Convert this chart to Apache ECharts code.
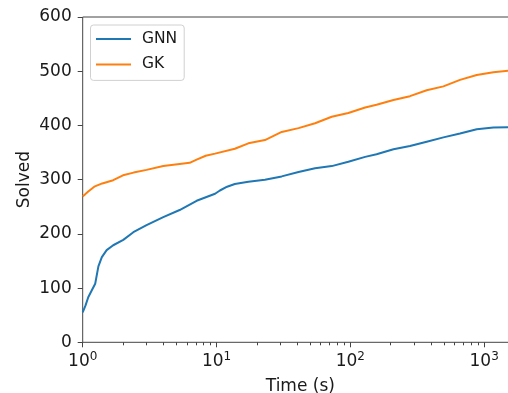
<!DOCTYPE html>
<html>
<head>
<meta charset="utf-8">
<script src="https://cdn.jsdelivr.net/npm/echarts@6/dist/echarts.min.js"></script>
<style>html,body{margin:0;padding:0;background:#fff}#c{width:508px;height:393px}</style>
</head>
<body>
<div id="c"></div>
<script>
const gnnTime = [1, 1.05, 1.10, 1.17, 1.24, 1.31, 1.39, 1.51, 1.69, 2.01, 2.39, 3.0, 4.0, 5.3, 7.1, 9.75, 10.6, 12, 13.7, 17.3, 23, 30.7, 41, 54.5, 72.6, 96.6, 129, 157, 210, 279, 372, 496, 660, 880, 1172, 1800];
const gnnSolved = [55, 68, 83, 96, 108, 140, 157, 170, 179, 189, 203, 216, 231, 244, 261, 274, 280, 287, 292, 296, 300, 306, 314, 321, 325, 333, 342, 347, 356, 362, 370, 378, 385, 393, 396, 397];
const gkTime = [1, 1.1, 1.22, 1.4, 1.69, 2.0, 2.4, 3.0, 4.0, 5.3, 6.3, 7.1, 8.3, 9.75, 13.7, 17.3, 23, 30.7, 41, 54.5, 72.6, 96.6, 129, 157, 210, 279, 372, 496, 660, 880, 1172, 1515, 1800];
const gkSolved = [269, 278, 287, 293, 299, 308, 313, 318, 325, 329, 331, 337, 344, 348, 357, 367, 373, 388, 395, 404, 416, 423, 433, 438, 447, 454, 465, 472, 484, 493, 498, 501, 503];
const yTicks = [0, 100, 200, 300, 400, 500, 600];
const xMajor = [1, 10, 100, 1000];
const xMinor = [2,3,4,5,6,7,8,9,20,30,40,50,60,70,80,90,200,300,400,500,600,700,800,900];
const xMin = 1, xMax = 1790;

const font = 'DejaVu Sans';
const chart = echarts.init(document.getElementById('c'), null, {renderer: 'canvas'});
const zip = (a, b) => a.map((t, i) => [t, b[i]]);

chart.setOption({
  animation: false,
  backgroundColor: '#fff',
  textStyle: {fontFamily: font},
  grid: {left: 82.7, top: 17, right: -10, bottom: 50.7, containLabel: false, outerBoundsMode: 'none', show: true, borderColor: '#444', borderWidth: 1, backgroundColor: 'transparent'},
  legend: {
    orient: 'vertical', left: 90.5, top: 25,
    itemWidth: 35, itemHeight: 14, itemGap: 9.4,
    padding: [6, 7, 8, 4.5],
    borderColor: '#d0d0d0', borderWidth: 1, borderRadius: 3,
    backgroundColor: 'rgba(255,255,255,0.8)',
    itemStyle: {opacity: 0, borderWidth: 0},
    textStyle: {fontFamily: font, fontSize: 15.5, color: '#1a1a1a', padding: [0, 0, 0, 6], lineHeight: 14, height: 14},
    data: ['GNN', 'GK']
  },
  xAxis: [{
    type: 'log', logBase: 10, min: xMin, max: xMax,
    name: 'Time (s)', nameLocation: 'middle', nameGap: 36, nameMoveOverlap: false,
    nameTextStyle: {fontFamily: font, fontSize: 17, color: '#1a1a1a'},
    axisLine: {show: false},
    axisTick: {show: true, length: 5, lineStyle: {color: '#444'}, customValues: xMajor},
    axisLabel: {
      customValues: xMajor, margin: 9, color: '#1a1a1a',
      formatter: v => '{b|10}{s|' + Math.round(Math.log10(v)) + '}',
      rich: {
        b: {fontFamily: font, fontSize: 17, lineHeight: 19, verticalAlign: 'bottom', color: '#1a1a1a'},
        s: {fontFamily: font, fontSize: 12, lineHeight: 12, verticalAlign: 'top', color: '#1a1a1a'}
      }
    },
    splitLine: {show: false}, minorTick: {show: false}
  }, {
    type: 'log', logBase: 10, min: xMin, max: xMax, position: 'bottom',
    axisLine: {show: false},
    axisTick: {show: true, length: 3, lineStyle: {color: '#444'}, customValues: xMinor},
    axisLabel: {show: false}, splitLine: {show: false}
  }],
  yAxis: {
    type: 'value', min: 0, max: 600, interval: 100,
    name: 'Solved', nameLocation: 'middle', nameGap: 50, nameMoveOverlap: false,
    nameTextStyle: {fontFamily: font, fontSize: 17, color: '#1a1a1a'},
    axisLine: {show: false},
    axisTick: {show: true, length: 5, lineStyle: {color: '#444'}},
    axisLabel: {margin: 11, fontFamily: font, fontSize: 17, color: '#1a1a1a', customValues: yTicks},
    splitLine: {show: false}
  },
  series: [{
    name: 'GNN', type: 'line', xAxisIndex: 0, data: zip(gnnTime, gnnSolved),
    symbol: 'none', smooth: false, color: '#1f77b4', lineStyle: {width: 2, color: '#1f77b4'}
  }, {
    name: 'GK', type: 'line', xAxisIndex: 0, data: zip(gkTime, gkSolved),
    symbol: 'none', smooth: false, color: '#ff7f0e', lineStyle: {width: 2, color: '#ff7f0e'}
  }]
});
</script>
</body>
</html>
